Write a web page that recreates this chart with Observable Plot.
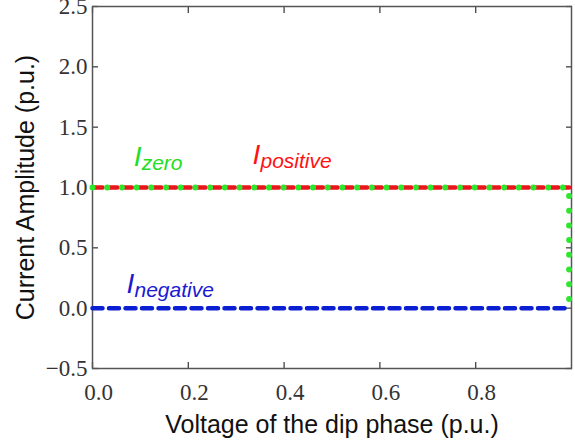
<!DOCTYPE html>
<html>
<head>
<meta charset="utf-8">
<script src="https://cdn.jsdelivr.net/npm/d3@7"></script>
<script src="https://cdn.jsdelivr.net/npm/@observablehq/plot@0.6"></script>
<style>
  html, body { margin: 0; padding: 0; background: #fff; }
  #chart { width: 575px; height: 444px; }
</style>
</head>
<body>
<div id="chart"></div>
<script>
// Data
const voltage = [0, 0.995];
const positive = [1.0, 1.0];
const negative = [0.0, 0.0];
const zeroVoltage = [0, 0.995, 0.995];
const zero = [1.0, 1.0, 0.0];

const xTicks = [0, 0.2, 0.4, 0.6, 0.8];
const yTicks = [-0.5, 0, 0.5, 1.0, 1.5, 2.0, 2.5];

const labelNames = ["zero", "positive", "negative"];
const labelX = [0.086, 0.334, 0.071];
const labelY = [1.18, 1.195, 0.125];
const labelColors = ["#22dd22", "#ff1111", "#1a1ad0"];

const xTitle = "Voltage of the dip phase (p.u.)";
const yTitle = "Current Amplitude (p.u.)";

const posData = voltage.map((v, i) => ({x: v, y: positive[i]}));
const negData = voltage.map((v, i) => ({x: v, y: negative[i]}));
const zeroData = zeroVoltage.map((v, i) => ({x: v, y: zero[i]}));
const labels = labelNames.map((n, i) => ({name: n, x: labelX[i], y: labelY[i], color: labelColors[i]}));

const tickFont = {fontFamily: "Liberation Serif", fontSize: 23, fill: "#333"};
const fmt = d3.format(".1f");
const tickStyle = {stroke: "#444", strokeWidth: 1.3, label: null};

const chart = Plot.plot({
  width: 575,
  height: 444,
  marginLeft: 92,
  marginRight: 4,
  marginTop: 6,
  marginBottom: 76,
  style: {background: "#fff", overflow: "visible"},
  x: {domain: [0, 1]},
  y: {domain: [-0.5, 2.5]},
  marks: [
    Plot.axisX({anchor: "bottom", ticks: xTicks, tickSize: -6, tickFormat: () => "", ...tickStyle}),
    Plot.axisX({anchor: "bottom", ticks: xTicks, tickSize: 0, tickPadding: 15, tickFormat: fmt, label: null, ...tickFont, dx: 6}),
    Plot.axisX({anchor: "top", ticks: xTicks, tickSize: -6, tickFormat: () => "", ...tickStyle}),
    Plot.axisY({anchor: "left", ticks: yTicks, tickSize: -6, tickPadding: 11, tickFormat: fmt, ...tickStyle, ...tickFont}),
    Plot.axisY({anchor: "right", ticks: yTicks, tickSize: -6, tickFormat: () => "", ...tickStyle}),
    Plot.frame({stroke: "#555", strokeWidth: 1.5}),
    Plot.line(negData, {x: "x", y: "y", stroke: "#0a1ed2", strokeWidth: 4.5, strokeDasharray: "10,6.5"}),
    Plot.line(posData, {x: "x", y: "y", stroke: "#e8161c", strokeWidth: 4.5, strokeDasharray: "10,4.7"}),
    Plot.line(zeroData, {x: "x", y: "y", stroke: "#2ee62e", strokeWidth: 6, strokeDasharray: "0,14.7", strokeLinecap: "round"}),
    Plot.text(labels, {x: "x", y: "y", text: () => "I", fill: "color", fontFamily: "Liberation Sans", fontSize: 28, fontStyle: "italic", textAnchor: "start", lineAnchor: "bottom"}),
    Plot.text(labels, {x: "x", y: "y", text: "name", fill: "color", fontFamily: "Liberation Sans", fontSize: 21, fontStyle: "italic", textAnchor: "start", lineAnchor: "bottom", dx: 8, dy: 4}),
    Plot.text([xTitle], {frameAnchor: "bottom", text: d => d, fontFamily: "Liberation Sans", fontSize: 25, fill: "#111", textAnchor: "middle", lineAnchor: "bottom", dy: 64}),
    Plot.text([yTitle], {frameAnchor: "left", text: d => d, fontFamily: "Liberation Sans", fontSize: 25, fill: "#111", textAnchor: "middle", lineAnchor: "bottom", rotate: -90, dx: -59})
  ]
});
document.getElementById("chart").appendChild(chart);
</script>
</body>
</html>
